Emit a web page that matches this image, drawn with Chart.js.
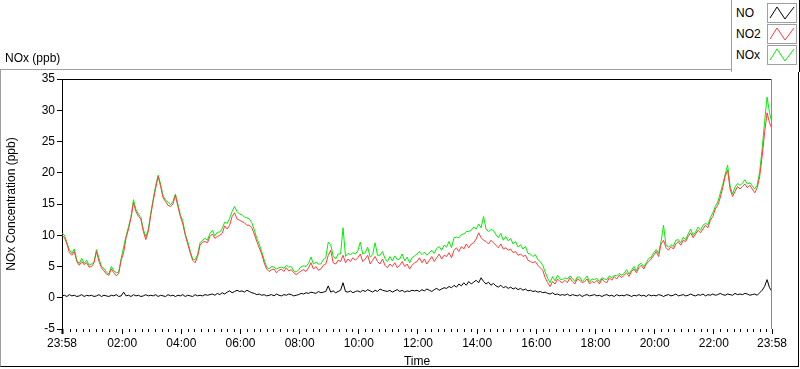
<!DOCTYPE html>
<html>
<head>
  <meta charset="utf-8">
  <title>NOx (ppb)</title>
  <script src="https://cdn.jsdelivr.net/npm/chart.js@4.4.0/dist/chart.umd.min.js"></script>
  <style>
    body { margin:0; background:#fff; font-family:"Liberation Sans", Arial, sans-serif; font-size:12px; color:#000; }
    #wrap { position:relative; width:800px; height:369px; overflow:hidden; }
    #frame { position:absolute; left:0; top:69px; width:799px; height:298px; box-sizing:border-box;
      border-top:1px solid #a0a0a0; border-left:1px solid #a0a0a0; border-right:1px solid #000; border-bottom:1px solid #000; }
    #chartCanvas { position:absolute; left:0; top:0; }
    #plotTitle { position:absolute; left:5px; top:51px; }
    #legendBox { position:absolute; left:731px; top:0; width:69px; height:72px; box-sizing:border-box; background:#fff;
      border-left:1px solid #a0a0a0; border-right:1px solid #000; }
    .legRow { position:absolute; left:0; width:68px; height:20px; }
    .legRow span { position:absolute; left:4px; top:3px; }
    .legRow svg { position:absolute; left:35px; top:0; }
  </style>
</head>
<body>
  <div id="wrap">
    <div id="frame"></div>
    <canvas id="chartCanvas" width="800" height="369"></canvas>
    <div id="plotTitle">NOx (ppb)</div>
    <div id="legendBox"></div>
  </div>

  <script>
    // one sample every 5 minutes, starting at 23:58 (t = 0) and ending 23:58 next day (t = 1440)
    const sampleStepMin = 5;

    const noValues = [
      0.3,0.4,0.2,0.5,0.3,0.4,0.2,0.3,0.5,0.2,0.4,0.3,
      0.4,0.2,0.3,0.5,0.2,0.4,0.3,0.2,0.4,0.3,0.5,0.2,
      0.3,0.9,0.3,0.4,0.2,0.5,0.3,0.4,0.2,0.3,0.5,0.3,
      0.4,0.3,0.5,0.2,0.4,0.3,0.2,0.5,0.3,0.4,0.2,0.4,
      0.3,0.5,0.2,0.4,0.3,0.2,0.5,0.3,0.4,0.3,0.5,0.4,
      0.5,0.6,0.4,0.7,0.5,0.8,0.6,0.9,1.1,0.8,1.0,1.2,
      1.0,1.1,0.9,1.2,1.0,0.8,0.7,0.5,0.6,0.4,0.5,0.3,
      0.4,0.5,0.3,0.6,0.4,0.3,0.5,0.4,0.6,0.5,0.3,0.4,
      0.5,0.7,0.6,0.8,0.7,0.9,0.8,0.7,1.0,0.8,0.9,1.0,
      1.9,0.9,1.1,0.8,1.0,1.2,2.4,1.0,0.9,1.1,0.8,1.0,
      1.1,0.9,1.2,1.0,1.3,1.1,0.9,1.2,1.0,1.4,1.2,1.1,
      1.0,1.2,0.9,1.1,1.3,1.0,1.2,0.9,1.1,1.0,1.2,1.1,
      1.2,1.0,1.3,1.1,1.4,1.2,1.0,1.3,1.5,1.2,1.4,1.6,
      1.5,1.8,1.6,2.0,1.7,2.2,1.9,2.4,2.0,2.6,2.2,2.5,
      2.8,2.4,3.2,2.6,2.2,2.5,2.0,2.3,1.9,1.7,2.0,1.6,
      1.8,1.5,1.7,1.4,1.6,1.3,1.5,1.2,1.4,1.1,1.2,1.0,
      1.1,0.9,1.0,0.8,0.9,0.7,0.6,0.8,0.5,0.6,0.4,0.5,
      0.4,0.6,0.3,0.5,0.4,0.3,0.5,0.2,0.4,0.5,0.3,0.4,
      0.5,0.3,0.4,0.2,0.4,0.5,0.3,0.4,0.2,0.5,0.3,0.4,
      0.3,0.5,0.4,0.2,0.4,0.3,0.5,0.3,0.4,0.2,0.5,0.3,
      0.4,0.3,0.5,0.4,0.2,0.4,0.5,0.3,0.4,0.6,0.3,0.4,
      0.5,0.3,0.4,0.6,0.4,0.3,0.5,0.4,0.6,0.3,0.5,0.4,
      0.6,0.4,0.5,0.7,0.5,0.4,0.6,0.5,0.4,0.7,0.5,0.6,
      0.5,0.7,0.6,0.4,0.5,0.6,0.4,0.8,1.2,1.8,2.9,1.6,
      1.0
    ];

    const no2Values = [
      10.0,9.6,8.6,7.2,6.8,7.4,5.8,5.2,5.8,5.3,5.6,4.9,
      5.0,5.6,7.4,5.8,4.8,4.3,3.8,3.6,4.6,4.0,3.5,3.9,
      6.0,7.2,9.6,11.0,12.8,15.2,13.8,13.0,12.6,10.6,9.3,10.6,
      13.2,15.5,17.5,19.4,17.8,16.0,15.4,14.8,14.6,15.0,16.4,14.6,
      13.0,11.8,10.0,8.6,7.2,6.0,5.6,6.6,8.4,8.9,9.0,8.8,
      9.8,10.2,9.5,9.8,10.0,10.3,11.5,11.0,11.6,13.0,13.6,12.6,
      12.4,12.2,12.0,11.6,11.6,11.2,10.2,9.0,8.0,7.0,5.6,4.6,
      4.2,4.5,4.6,4.0,4.4,4.6,4.2,4.8,4.3,4.5,4.0,3.7,
      4.0,4.3,4.5,4.2,4.8,5.6,4.6,5.0,4.4,4.6,5.2,5.4,
      6.8,7.6,5.6,5.4,6.0,5.8,6.8,5.6,6.2,5.8,6.4,6.0,
      6.4,7.0,5.8,6.2,6.8,5.4,6.0,6.6,5.8,5.4,6.2,5.2,
      4.8,5.4,5.0,5.6,4.8,5.2,5.8,5.0,5.4,4.6,5.2,5.6,
      5.8,6.4,5.6,6.2,5.4,6.0,6.6,5.8,6.4,7.0,6.2,6.8,
      6.6,7.2,6.4,7.6,8.0,7.4,8.2,7.8,8.6,8.0,8.6,8.8,
      9.4,10.4,9.6,9.2,9.0,8.6,9.2,8.8,8.4,8.0,8.6,7.8,
      8.0,7.6,7.8,7.2,7.4,6.8,7.0,6.6,6.8,6.0,5.8,5.6,
      5.8,5.2,4.8,4.4,3.2,2.4,1.8,2.6,2.2,3.0,2.6,2.4,
      2.8,2.4,3.2,2.6,2.2,3.0,2.8,2.4,2.6,3.0,2.2,2.6,
      2.4,2.8,2.2,3.0,2.6,2.4,3.2,2.8,3.4,3.0,3.6,3.2,
      3.6,4.0,3.4,4.2,4.6,4.0,4.8,5.2,4.6,5.4,5.8,6.2,
      6.8,7.4,6.6,8.6,9.2,8.0,7.6,8.2,7.8,8.6,9.0,8.4,
      9.2,9.0,9.8,10.4,9.6,10.2,10.8,10.4,11.0,11.6,11.2,12.4,
      13.0,14.2,14.8,16.0,17.6,19.4,20.4,17.4,16.2,17.0,17.8,17.4,
      17.8,18.2,17.6,18.0,17.4,16.8,17.6,19.4,22.6,26.4,29.6,28.0,
      27.0
    ];

    const noxValues = [
      10.3,10.0,8.8,7.7,7.1,7.8,6.0,5.5,6.3,5.5,6.0,5.2,
      5.4,5.8,7.7,6.3,5.0,4.7,4.1,3.8,5.0,4.3,4.0,4.1,
      6.3,8.1,9.9,11.4,13.0,15.7,14.1,13.4,12.8,10.9,9.8,10.9,
      13.6,15.8,18.0,19.6,18.2,16.3,15.6,15.3,14.9,15.4,16.6,15.0,
      13.3,12.3,10.2,9.0,7.5,6.2,6.1,6.9,8.8,9.2,9.5,9.2,
      10.3,10.8,9.9,10.5,10.5,11.1,12.1,11.9,12.7,13.8,14.6,13.8,
      13.4,13.3,12.9,12.8,12.6,12.0,10.9,9.5,8.6,7.4,6.1,4.9,
      4.6,5.0,4.9,4.6,4.8,4.9,4.7,5.2,4.9,5.0,4.3,4.1,
      4.5,5.0,5.1,5.0,5.5,6.5,5.4,5.7,5.4,5.4,6.1,6.4,
      8.9,8.5,6.7,6.2,7.0,7.0,11.2,6.6,7.1,6.9,7.2,7.0,
      7.5,8.9,7.0,7.2,8.1,6.5,6.9,8.8,6.8,6.8,7.4,6.3,
      5.8,6.6,5.9,6.7,6.1,6.2,7.0,5.9,6.5,5.6,6.4,6.7,
      7.0,7.4,6.9,7.3,6.8,7.2,7.6,7.1,7.9,8.2,7.6,8.4,
      8.1,9.0,8.0,9.6,9.7,9.6,10.1,10.2,10.6,10.6,10.8,11.3,
      11.0,11.8,11.2,13.0,11.0,10.6,10.9,10.8,10.1,9.6,10.3,9.2,
      9.8,9.1,9.5,8.6,9.0,8.1,8.5,7.8,8.2,7.1,7.0,6.6,
      6.9,6.1,5.8,5.2,4.1,3.1,2.4,3.4,2.7,3.6,3.0,2.9,
      3.2,3.0,3.5,3.1,2.6,3.3,3.3,2.6,3.0,3.5,2.5,3.0,
      2.9,3.1,2.6,3.2,3.0,2.9,3.5,3.2,3.6,3.5,3.9,3.6,
      3.9,4.5,3.8,4.4,5.0,4.3,5.3,5.5,5.0,5.6,6.3,6.5,
      7.2,7.7,7.1,9.0,11.6,8.4,8.1,8.5,8.2,9.2,9.3,8.8,
      9.7,9.3,10.2,11.0,10.0,10.5,11.3,10.8,11.6,11.9,11.7,12.8,
      13.6,14.6,15.3,16.7,18.1,19.8,21.2,17.9,16.6,17.7,18.3,18.0,
      18.3,18.9,18.2,18.4,17.9,17.4,18.0,20.2,23.8,28.2,32.1,29.6,
      28.0
    ];

    const seriesNames = ['NO', 'NO2', 'NOx'];
    const seriesColors = ['#000000', '#ff3a3a', '#00ee00'];

    // x in minutes since 23:58
    const xTickMinutes = [0, 122, 242, 362, 482, 602, 722, 842, 962, 1082, 1202, 1322, 1440];
    const xTickLabels = ['23:58', '02:00', '04:00', '06:00', '08:00', '10:00', '12:00', '14:00', '16:00', '18:00', '20:00', '22:00', '23:58'];
    const xMinorStepMin = 40 / 3;

    const toPoints = vals => vals.map((v, i) => ({x: i * sampleStepMin, y: v}));

    // legend (html)
    let legendBox = document.getElementById('legendBox');
    seriesNames.forEach((name, i) => {
      let row = document.createElement('div');
      row.className = 'legRow';
      row.style.top = (3 + i * 21) + 'px';
      row.innerHTML = `<span>${name}</span>` +
        `<svg width="30" height="20"><rect x="0.5" y="0.5" width="29" height="19" fill="#fff" stroke="#a0a0a0"/>` +
        `<polyline points="3,15 10,4 18,16 27,4" fill="none" stroke="${seriesColors[i]}" stroke-width="1"/></svg>`;
      legendBox.append(row);
    });

    const framePlugin = {
      id: 'framePlugin',
      afterDatasetsDraw(chart) {
        let {ctx, chartArea} = chart;
        ctx.save();
        ctx.lineWidth = 1;
        ctx.strokeStyle = '#000';
        ctx.beginPath();
        ctx.moveTo(chartArea.left, chartArea.top + 0.5);
        ctx.lineTo(chartArea.right, chartArea.top + 0.5);
        ctx.stroke();
        ctx.strokeStyle = '#8a8a8a';
        ctx.beginPath();
        ctx.moveTo(chartArea.right - 0.5, chartArea.top);
        ctx.lineTo(chartArea.right - 0.5, chartArea.bottom);
        ctx.stroke();
        // minor ticks on the time axis
        let xs = chart.scales.x;
        ctx.strokeStyle = '#000';
        ctx.beginPath();
        for (let t = 2 + xMinorStepMin; t < 1440; t += xMinorStepMin) {
          if (xTickMinutes.some(m => Math.abs(m - t) < 3)) continue;
          let px = Math.round(xs.getPixelForValue(t)) + 0.5;
          ctx.moveTo(px, chartArea.bottom);
          ctx.lineTo(px, chartArea.bottom + 3);
        }
        ctx.stroke();
        ctx.restore();
      }
    };

    Chart.defaults.font.family = '"Liberation Sans", Arial, sans-serif';
    Chart.defaults.font.size = 12;
    Chart.defaults.color = '#000';

    new Chart(document.getElementById('chartCanvas'), {
      type: 'line',
      plugins: [framePlugin],
      data: {
        datasets: [
          {label: seriesNames[0], data: toPoints(noValues), borderColor: seriesColors[0]},
          {label: seriesNames[1], data: toPoints(no2Values), borderColor: seriesColors[1]},
          {label: seriesNames[2], data: toPoints(noxValues), borderColor: seriesColors[2]},
        ]
      },
      options: {
        responsive: false,
        animation: false,
        parsing: false,
        elements: {
          line: {borderWidth: 1, tension: 0},
          point: {radius: 0}
        },
        layout: {padding: {top: 79, left: 0, right: 28, bottom: 0}},
        plugins: {
          legend: {display: false},
          tooltip: {enabled: false}
        },
        scales: {
          x: {
            type: 'linear',
            min: 0,
            max: 1440,
            afterFit: s => { s.height = 40; },
            afterBuildTicks: s => { s.ticks = xTickMinutes.map(v => ({value: v})); },
            ticks: {
              autoSkip: false,
              maxRotation: 0,
              padding: 2,
              callback: v => xTickLabels[xTickMinutes.indexOf(v)]
            },
            grid: {
              drawOnChartArea: false,
              drawTicks: true,
              tickLength: 5,
              tickColor: '#000',
              tickWidth: c => c.index === 0 ? 2 : 1
            },
            border: {display: false},
            title: {display: true, text: 'Time', padding: {top: 0, bottom: 0}}
          },
          y: {
            min: -5,
            max: 35,
            afterFit: s => { s.width = 62; },
            ticks: {stepSize: 5, padding: 2},
            grid: {
              drawOnChartArea: false,
              drawTicks: true,
              tickLength: 5,
              tickColor: '#000'
            },
            border: {display: true, color: '#000', width: 1},
            title: {display: true, text: 'NOx Concentration (ppb)', padding: {top: 4, bottom: 0}}
          }
        }
      }
    });
  </script>
</body>
</html>
